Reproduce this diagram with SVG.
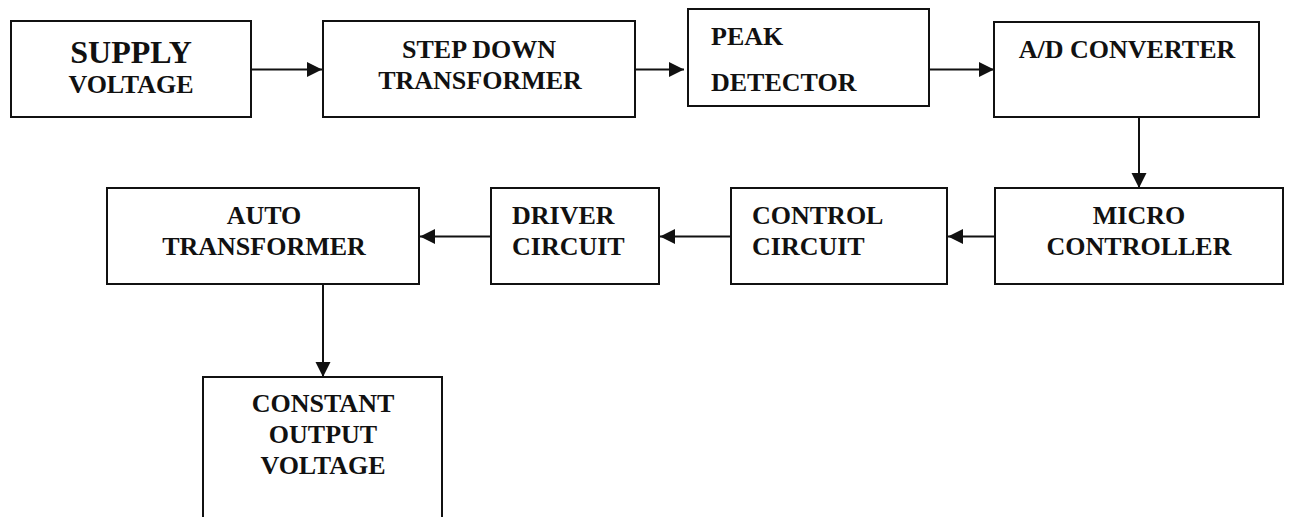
<svg xmlns="http://www.w3.org/2000/svg" width="1290" height="517" viewBox="0 0 1290 517">
<style>
.box{fill:#fff;stroke:#111;stroke-width:2}
.t{font-family:"Liberation Serif","Times New Roman",serif;font-weight:bold;font-size:26px;fill:#111}
.c{text-anchor:middle}
.conn{stroke:#111;stroke-width:2;fill:none;marker-end:url(#ah)}
</style>
<defs>
<marker id="ah" markerUnits="userSpaceOnUse" markerWidth="16" markerHeight="16" refX="15" refY="7.5" orient="auto">
<path d="M0,0 L15,7.5 L0,15 z" fill="#111"/>
</marker>
</defs>
<g id="connectors">
<line class="conn" x1="251" y1="69.5" x2="322" y2="69.5"/>
<line class="conn" x1="635" y1="69.5" x2="684" y2="69.5"/>
<line class="conn" x1="922" y1="69.5" x2="994" y2="69.5"/>
<line class="conn" x1="1139" y1="117" x2="1139" y2="188"/>
<line class="conn" x1="995" y1="236.5" x2="948" y2="236.5"/>
<line class="conn" x1="731" y1="236.5" x2="660" y2="236.5"/>
<line class="conn" x1="491" y1="236.5" x2="420" y2="236.5"/>
<line class="conn" x1="323" y1="284" x2="323" y2="377"/>
</g>
<g id="supply">
<rect class="box" x="11" y="21" width="240" height="96"/>
<text class="t c" x="131" y="63" style="font-size:32px">SUPPLY</text>
<text class="t c" x="131" y="93">VOLTAGE</text>
</g>
<g id="stepdown">
<rect class="box" x="323" y="21" width="312" height="96"/>
<text class="t c" x="479" y="58">STEP DOWN</text>
<text class="t c" x="480" y="89">TRANSFORMER</text>
</g>
<g id="peak">
<rect class="box" x="688" y="9" width="241" height="97"/>
<text class="t" x="711" y="45">PEAK</text>
<text class="t" x="711" y="91">DETECTOR</text>
</g>
<g id="adc">
<rect class="box" x="994" y="22" width="265" height="95"/>
<text class="t c" x="1127" y="58">A/D CONVERTER</text>
</g>
<g id="micro">
<rect class="box" x="995" y="188" width="288" height="96"/>
<text class="t c" x="1139" y="224">MICRO</text>
<text class="t c" x="1139" y="255">CONTROLLER</text>
</g>
<g id="control">
<rect class="box" x="731" y="188" width="216" height="96"/>
<text class="t" x="752" y="224">CONTROL</text>
<text class="t" x="752" y="255">CIRCUIT</text>
</g>
<g id="driver">
<rect class="box" x="491" y="188" width="168" height="96"/>
<text class="t" x="512" y="224">DRIVER</text>
<text class="t" x="512" y="255">CIRCUIT</text>
</g>
<g id="auto">
<rect class="box" x="107" y="188" width="312" height="96"/>
<text class="t c" x="264" y="224">AUTO</text>
<text class="t c" x="264" y="255">TRANSFORMER</text>
</g>
<g id="constant">
<path class="box" d="M203,530 L203,377 L442,377 L442,530"/>
<text class="t c" x="323" y="412">CONSTANT</text>
<text class="t c" x="323" y="443">OUTPUT</text>
<text class="t c" x="323" y="474">VOLTAGE</text>
</g>
</svg>
